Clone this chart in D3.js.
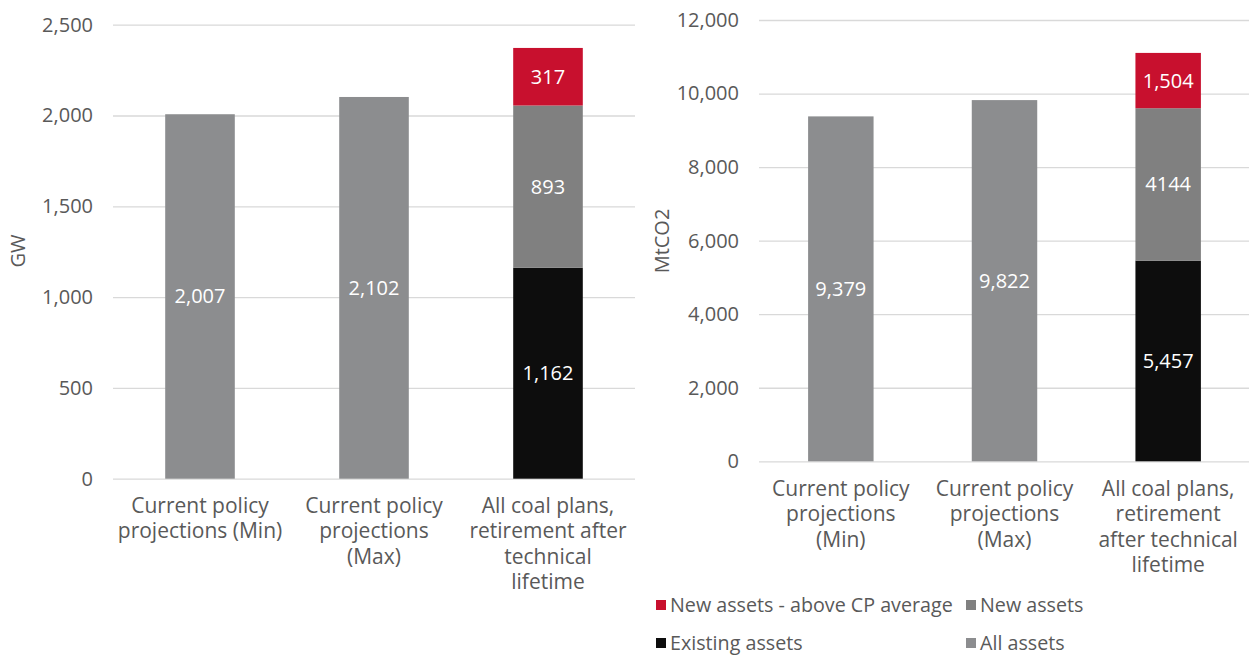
<!DOCTYPE html>
<html>
<head>
<meta charset="utf-8">
<script src="https://cdn.jsdelivr.net/npm/d3@7"></script>
<style>
  body { margin: 0; background: #fff; }
  text { font-family: "Open Sans", "Noto Sans", sans-serif; }
</style>
</head>
<body>
<script>
// categories (with the original line breaks)
var catsLeft = [
  ["Current policy", "projections (Min)"],
  ["Current policy", "projections", "(Max)"],
  ["All coal plans,", "retirement after", "technical", "lifetime"]
];
var catsRight = [
  ["Current policy", "projections", "(Min)"],
  ["Current policy", "projections", "(Max)"],
  ["All coal plans,", "retirement", "after technical", "lifetime"]
];

// series values per category: [all assets, existing, new, new above CP]
var allAssetsGW   = [2007, 2102, 0];
var existingGW    = [0, 0, 1162];
var newGW         = [0, 0, 893];
var aboveCPGW     = [0, 0, 317];

var allAssetsCO2  = [9379, 9822, 0];
var existingCO2   = [0, 0, 5457];
var newCO2        = [0, 0, 4144];
var aboveCPCO2    = [0, 0, 1504];

var ticksGW  = [0, 500, 1000, 1500, 2000, 2500];
var ticksCO2 = [0, 2000, 4000, 6000, 8000, 10000, 12000];

var seriesNames = ["All assets", "Existing assets", "New assets", "New assets - above CP average"];
var colors = {
  "All assets": "#8c8d8f",
  "Existing assets": "#0d0d0d",
  "New assets": "#808080",
  "New assets - above CP average": "#c8102e"
};
// the co2 chart shows 4144 without a thousands separator
var labelFmt = {
  "New assets": function(v, chart) { return chart === "co2" ? String(v) : d3.format(",")(v); }
};

var svg = d3.select("body").append("svg")
  .attr("width", 1249)
  .attr("height", 655);

function drawChart(opts) {
  var rows = opts.cats.map(function(c, i) {
    return {
      cat: i,
      "All assets": opts.all[i],
      "Existing assets": opts.existing[i],
      "New assets": opts.newer[i],
      "New assets - above CP average": opts.above[i]
    };
  });

  var x = d3.scaleBand()
    .domain(d3.range(opts.cats.length))
    .range([opts.left, opts.right])
    .paddingInner(0.6)
    .paddingOuter(0.3);

  var y = d3.scaleLinear()
    .domain([0, d3.max(opts.ticks)])
    .range([opts.bottom, opts.top]);

  var g = svg.append("g");

  // gridlines + y tick labels
  var yAxis = d3.axisLeft(y)
    .tickValues(opts.ticks)
    .tickSize(-(opts.right - opts.left))
    .tickPadding(20)
    .tickFormat(d3.format(","));
  var ya = g.append("g")
    .attr("transform", "translate(" + opts.left + ",0)")
    .call(yAxis);
  ya.select(".domain").remove();
  ya.selectAll(".tick line").attr("stroke", "#d9d9d9").attr("stroke-width", 1.3);
  ya.selectAll(".tick text")
    .attr("fill", "#595959")
    .style("font-size", "20px");

  // y title
  g.append("text")
    .attr("transform", "translate(" + opts.titleX + "," + opts.titleY + ") rotate(-90)")
    .attr("text-anchor", "middle")
    .attr("dy", "0.35em")
    .attr("fill", "#595959")
    .style("font-size", "20px")
    .text(opts.title);

  var stack = d3.stack().keys(seriesNames)(rows);

  var layers = g.selectAll(".layer")
    .data(stack)
    .enter().append("g")
    .attr("class", "layer")
    .attr("fill", function(d) { return colors[d.key]; });

  layers.selectAll("rect")
    .data(function(d) { return d.filter(function(p) { return p[1] > p[0]; }); })
    .enter().append("rect")
    .attr("x", function(d) { return x(d.data.cat); })
    .attr("width", x.bandwidth())
    .attr("y", function(d) { return y(d[1]); })
    .attr("height", function(d) { return y(d[0]) - y(d[1]); });

  layers.each(function(layer) {
    var key = layer.key;
    d3.select(this).selectAll("text")
      .data(layer.filter(function(p) { return p[1] > p[0]; }))
      .enter().append("text")
      .attr("x", function(d) { return x(d.data.cat) + x.bandwidth() / 2; })
      .attr("y", function(d) { return (y(d[0]) + y(d[1])) / 2; })
      .attr("dy", "0.35em")
      .attr("text-anchor", "middle")
      .attr("fill", "#ffffff")
      .style("font-size", "20px")
      .text(function(d) {
        var v = d[1] - d[0];
        return labelFmt[key] ? labelFmt[key](v, opts.id) : d3.format(",")(v);
      });
  });

  // category labels
  var cl = g.selectAll(".cat")
    .data(opts.cats)
    .enter().append("text")
    .attr("class", "cat")
    .attr("text-anchor", "middle")
    .attr("fill", "#595959")
    .style("font-size", "21px")
    .attr("transform", function(d, i) {
      return "translate(" + (x(i) + x.bandwidth() / 2) + "," + opts.catY + ")";
    });
  cl.selectAll("tspan")
    .data(function(d) { return d; })
    .enter().append("tspan")
    .attr("x", 0)
    .attr("y", function(d, i) { return i * 25.3; })
    .text(function(d) { return d; });
}

drawChart({
  id: "gw",
  cats: catsLeft,
  all: allAssetsGW, existing: existingGW, newer: newGW, above: aboveCPGW,
  ticks: ticksGW,
  left: 113, right: 635, top: 24.7, bottom: 478.7,
  title: "GW", titleX: 18, titleY: 251,
  catY: 513
});

drawChart({
  id: "co2",
  cats: catsRight,
  all: allAssetsCO2, existing: existingCO2, newer: newCO2, above: aboveCPCO2,
  ticks: ticksCO2,
  left: 759, right: 1250, top: 20, bottom: 461.3,
  title: "MtCO2", titleX: 662, titleY: 241,
  catY: 496
});

// legend
var legendItems = [
  { name: "New assets - above CP average", x: 656, y: 605 },
  { name: "New assets", x: 966, y: 605 },
  { name: "Existing assets", x: 656, y: 643 },
  { name: "All assets", x: 966, y: 643 }
];
var lg = svg.append("g").selectAll("g")
  .data(legendItems)
  .enter().append("g")
  .attr("transform", function(d) { return "translate(" + d.x + "," + d.y + ")"; });
lg.append("rect")
  .attr("x", 0).attr("y", -5)
  .attr("width", 10).attr("height", 10)
  .attr("fill", function(d) { return colors[d.name]; });
lg.append("text")
  .attr("x", 14)
  .attr("dy", "0.35em")
  .attr("fill", "#595959")
  .style("font-size", "19.7px")
  .text(function(d) { return d.name; });
</script>
</body>
</html>
